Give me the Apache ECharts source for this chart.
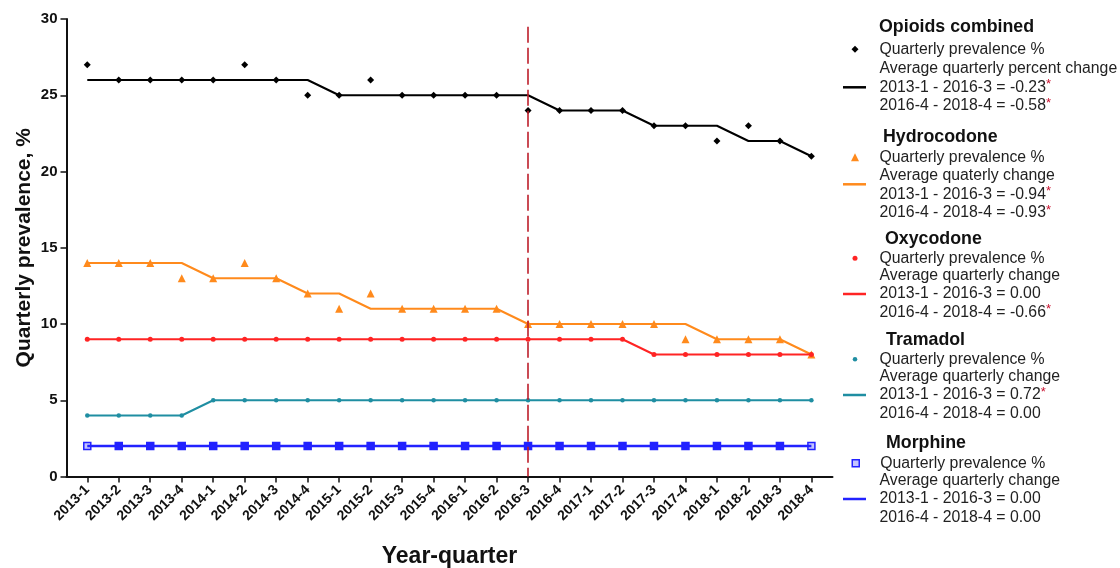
<!DOCTYPE html>
<html><head><meta charset="utf-8">
<script src="https://cdn.jsdelivr.net/npm/echarts@6/dist/echarts.min.js"></script>
<style>html,body{margin:0;padding:0;background:#fff}#c{width:1120px;height:568px}</style>
</head><body><div id="c"></div>
<script>
// ---------- data ----------
const quarters = ['2013-1','2013-2','2013-3','2013-4','2014-1','2014-2','2014-3','2014-4',
  '2015-1','2015-2','2015-3','2015-4','2016-1','2016-2','2016-3','2016-4',
  '2017-1','2017-2','2017-3','2017-4','2018-1','2018-2','2018-3','2018-4'];
const breakQuarter = '2016-3';

const opioidsPrev  = [27,26,26,26,26,27,26,25,25,26,25,25,25,25,24,24,24,24,23,23,22,23,22,21];
const opioidsTrend = [26,26,26,26,26,26,26,26,25,25,25,25,25,25,25,24,24,24,23,23,23,22,22,21];
const hydroPrev    = [14,14,14,13,13,14,13,12,11,12,11,11,11,11,10,10,10,10,10,9,9,9,9,8];
const hydroTrend   = [14,14,14,14,13,13,13,12,12,11,11,11,11,11,10,10,10,10,10,10,9,9,9,8];
const oxyPrev      = [9,9,9,9,9,9,9,9,9,9,9,9,9,9,9,9,9,9,8,8,8,8,8,8];
const oxyTrend     = [9,9,9,9,9,9,9,9,9,9,9,9,9,9,9,9,9,9,8,8,8,8,8,8];
const tramPrev     = [4,4,4,4,5,5,5,5,5,5,5,5,5,5,5,5,5,5,5,5,5,5,5,5];
const tramTrend    = [4,4,4,4,5,5,5,5,5,5,5,5,5,5,5,5,5,5,5,5,5,5,5,5];
const morphPrev    = [2,2,2,2,2,2,2,2,2,2,2,2,2,2,2,2,2,2,2,2,2,2,2,2];
const morphTrend   = [2,2,2,2,2,2,2,2,2,2,2,2,2,2,2,2,2,2,2,2,2,2,2,2];

const drugNames = ['Opioids combined','Hydrocodone','Oxycodone','Tramadol','Morphine'];
const prevLabel = 'Quarterly prevalence %';
const changeHeaders = ['Average quarterly percent change','Average quaterly change',
  'Average quarterly change','Average quarterly change','Average quarterly change'];
const changePeriods = ['2013-1 - 2016-3','2016-4 - 2018-4'];
const changeValues = [['-0.23','-0.58'],['-0.94','-0.93'],['0.00','-0.66'],['0.72','0.00'],['0.00','0.00']];
const changeSignif = [[true,true],[true,true],[false,true],[true,false],[false,false]];

// ---------- styling / layout ----------
const FONT = '"Liberation Sans", Arial, Helvetica, sans-serif';
const prevSeries = [opioidsPrev, hydroPrev, oxyPrev, tramPrev, morphPrev];
const trendSeries = [opioidsTrend, hydroTrend, oxyTrend, tramTrend, morphTrend];
const styles = [
  {color:'#000000', symbol:'diamond', size:7, lw:2},
  {color:'#ff8a1c', symbol:'triangle', size:8, lw:2},
  {color:'#ff2424', symbol:'circle', size:5, lw:2},
  {color:'#1f8ea2', symbol:'circle', size:4.5, lw:2},
  {color:'#2222ff', symbol:'rect', size:7, lw:2.5, hollow:'#c4c4ff', bw:1.5, under:true}
];
// legend layout (pixel positions of the custom key)
const keyTitle = [{x:879,y:26.7},{x:883,y:136.7},{x:885,y:239.3},{x:886,y:340},{x:886,y:442.7}];
const keyIconX = 855;
const keyTextX = 879.5;
const keyPrevY = [49.3,157.3,258.3,359.3,463.3];
const keyLineY = [87.3,184.3,294,395,499];
const keyLinePadTop = [0,20,0,0,0];
const LH = 18.8;

const toXY = arr => arr.map((v, i) => [i, v]);
const breakIdx = quarters.indexOf(breakQuarter);

const series = [];
const legends = [];
const titles = [];
const nameMap = {};

drugNames.forEach((dn, k) => {
  const s = styles[k];
  const trendName = dn + ' trend';
  const prevName = dn + ' prevalence';
  const line = {
    type:'line', name: trendName, data: toXY(trendSeries[k]), symbol:'none',
    lineStyle:{color:s.color, width:s.lw}, itemStyle:{color:s.color},
    z: s.under ? 4 : 2, silent:true
  };
  if (k === 0) {
    line.markLine = {
      silent:true, symbol:['none','none'], label:{show:false},
      lineStyle:{color:'#bd1f2b', type:[16,5], width:1.6, opacity:1},
      data:[[{coord:[breakIdx, 29.5]},{coord:[breakIdx, 0]}]]
    };
  }
  series.push(line);
  const last = prevSeries[k].length - 1;
  let pts = toXY(prevSeries[k]);
  if (s.hollow) {
    pts = pts.map((p, i) => (i === 0 || i === last) ? {value:p, itemStyle:{color:s.hollow}} : p);
  }
  series.push({
    type:'scatter', name: prevName, data: pts,
    symbol:s.symbol, symbolSize:s.size,
    itemStyle:{color:s.color, borderColor:s.color, borderWidth:s.bw || 0, opacity:1},
    z: 3, silent:true
  });

  titles.push({
    text: dn, left: keyTitle[k].x, top: keyTitle[k].y - 10, padding:0,
    textStyle:{fontSize:17.8, fontWeight:'bold', color:'#111', lineHeight:20, fontFamily:FONT}
  });

  // prevalence key
  nameMap[prevName] = prevLabel;
  const pl = keyIconX - s.size / 2;
  const legendItem = {name:prevName, icon:s.symbol};
  if (s.hollow) legendItem.itemStyle = {color:s.hollow, borderColor:s.color, borderWidth:1.5};
  legends.push({
    data:[legendItem], left: pl, top: keyPrevY[k] - 9.5, padding:0,
    itemWidth:s.size, itemHeight:s.size, selectedMode:false,
    formatter: n => nameMap[n],
    textStyle:{fontSize:15.8, color:'#222', lineHeight:19, fontFamily:FONT,
      padding:[0,0,0, keyTextX - (pl + s.size + 5)]}
  });

  // trend key
  const lines = [changeHeaders[k]];
  changePeriods.forEach((p, j) => {
    lines.push(p + ' = ' + changeValues[k][j] + (changeSignif[k][j] ? '{r|*}' : ''));
  });
  nameMap[trendName] = lines.join('\n');
  const boxH = 3 * LH + keyLinePadTop[k];
  legends.push({
    data:[{name:trendName, icon:'rect'}], left: 843, top: keyLineY[k] - boxH / 2, padding:0,
    itemWidth:23, itemHeight:2.5, symbolKeepAspect:false, selectedMode:false,
    formatter: n => nameMap[n],
    textStyle:{fontSize:15.8, color:'#222', lineHeight:LH, fontFamily:FONT,
      padding:[keyLinePadTop[k],0,0, keyTextX - (843 + 23 + 5)],
      rich:{r:{color:'#c8102e', fontSize:13, lineHeight:LH, fontFamily:FONT, verticalAlign:'top'}}}
  });
});

const chart = echarts.init(document.getElementById('c'), null, {renderer:'canvas'});
chart.setOption({
  animation:false,
  backgroundColor:'#ffffff',
  textStyle:{fontFamily:FONT},
  title: titles,
  legend: legends,
  grid:{left:66.5, right:287.5, top:19, bottom:91.5, containLabel:false, outerBoundsMode:'none'},
  xAxis:{
    type:'value', min:-0.66, max:23.67,
    axisLine:{show:true, onZero:false, lineStyle:{color:'#111', width:2}},
    axisTick:{show:true, customValues: quarters.map((q, i) => i), length:6, lineStyle:{color:'#111', width:1.5}},
    axisLabel:{show:true, customValues: quarters.map((q, i) => i), formatter: v => quarters[Math.round(v)],
      rotate:45, margin:11, fontSize:14, fontWeight:'bold', color:'#111', fontFamily:FONT},
    splitLine:{show:false},
    name:'Year-quarter', nameLocation:'middle', nameGap:69,
    nameTextStyle:{fontSize:23, fontWeight:'bold', color:'#111', fontFamily:FONT}
  },
  yAxis:{
    type:'value', min:0, max:30, interval:5,
    axisLine:{show:true, onZero:false, lineStyle:{color:'#111', width:2}},
    axisTick:{show:true, length:6, lineStyle:{color:'#111', width:1.5}},
    axisLabel:{fontSize:15, fontWeight:'bold', color:'#111', margin:9, fontFamily:FONT},
    splitLine:{show:false},
    name:'Quarterly prevalence, %', nameLocation:'middle', nameGap:32, nameMoveOverlap:false,
    nameTextStyle:{fontSize:21, fontWeight:'bold', color:'#111', fontFamily:FONT}
  },
  series: series
});
</script>
</body></html>
